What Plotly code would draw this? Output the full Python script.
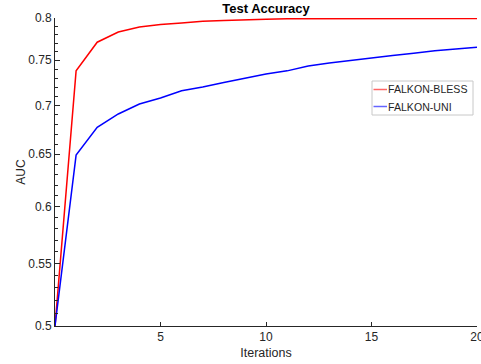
import math
import plotly.graph_objects as go

iterations = list(range(0, 21))
bless_auc = [0.500, 0.738, 0.771, 0.783, 0.789, 0.792, 0.794, 0.796, 0.797, 0.798,
             0.7985, 0.799, 0.799, 0.799, 0.7993, 0.7995, 0.7995, 0.7995, 0.7995, 0.7995, 0.7995]
uni_auc = [0.500, 0.649, 0.677, 0.691, 0.7016, 0.708, 0.716, 0.720, 0.725, 0.730,
           0.7345, 0.738, 0.7435, 0.747, 0.750, 0.7527, 0.7555, 0.758, 0.761, 0.763, 0.765]
series_names = ["FALKON-BLESS", "FALKON-UNI"]
series_colors = ["#ff0000", "#0000ff"]
y_ticks = [0.5, 0.55, 0.6, 0.65, 0.7, 0.75, 0.8]
y_tick_text = ["0.5", "0.55", "0.6", "0.65", "0.7", "0.75", "0.8"]
y_minor = [round(0.5 + 0.01 * i, 2) for i in range(31)]
x_ticks = [5, 10, 15, 20]

FONT = "Liberation Sans, Arial, sans-serif"
AX = "#262626"
W, H = 481, 364
ML, MR, MT, MB = 55, 4, 18, 38
PW, PH = W - ML - MR, H - MT - MB


def px_to_paper(x, y):
    return (x - ML) / PW, (H - MB - y) / PH


fig = go.Figure()
for name, vals, col in zip(series_names, [bless_auc, uni_auc], series_colors):
    fig.add_trace(go.Scatter(x=iterations, y=vals, mode="lines", name=name,
                             line=dict(color=col, width=1.5), showlegend=False))

# legend box (drawn manually to match the compact reference legend)
shapes = []
annotations = []
x0, y0 = px_to_paper(372, 81)
x1, y1 = px_to_paper(473, 115)
shapes.append(dict(type="rect", xref="paper", yref="paper", x0=x0, x1=x1, y0=y1, y1=y0,
                   line=dict(color="#c8c8c8", width=1), fillcolor="white", layer="above"))
for i, (name, col) in enumerate(zip(series_names, series_colors)):
    ly = 89.5 + 17 * i
    lx0, lyp = px_to_paper(373.5, ly)
    lx1, _ = px_to_paper(387, ly)
    shapes.append(dict(type="line", xref="paper", yref="paper", x0=lx0, x1=lx1, y0=lyp, y1=lyp,
                       line=dict(color=col, width=1.5), opacity=0.6, layer="above"))
    tx, _ = px_to_paper(386, ly)
    annotations.append(dict(text=name, xref="paper", yref="paper", x=tx, y=lyp,
                            xanchor="left", yanchor="middle", showarrow=False,
                            font=dict(size=10.6, color=AX, family=FONT)))

fig.update_layout(
    width=W, height=H,
    margin=dict(l=ML, r=MR, t=MT, b=MB, autoexpand=False),
    paper_bgcolor="white", plot_bgcolor="white",
    font=dict(family=FONT, size=12, color=AX),
    title=dict(text="<b>Test Accuracy</b>", x=0.5, xref="paper", xanchor="center",
               y=1 - 8 / H, yref="container", yanchor="middle",
               font=dict(size=13, color="black", family=FONT)),
    showlegend=False,
    shapes=shapes,
    annotations=annotations,
)
fig.update_xaxes(range=[0, 20.0001], tickmode="array", tickvals=x_ticks,
                 ticks="inside", ticklen=4, tickcolor=AX, tickwidth=1,
                 ticklabeloverflow="allow", automargin=False,
                 showline=True, linecolor=AX, linewidth=1, showgrid=False, zeroline=False,
                 tickfont=dict(size=12, color=AX),
                 title=dict(text="Iterations", font=dict(size=12.5, color=AX), standoff=4))
fig.update_yaxes(type="log", range=[math.log10(0.5), math.log10(0.8)],
                 tickmode="array", tickvals=y_ticks, ticktext=y_tick_text,
                 ticks="inside", ticklen=5, tickcolor=AX, tickwidth=1,
                 automargin=False,
                 minor=dict(tickmode="array", tickvals=y_minor, ticks="inside", ticklen=3,
                            tickcolor=AX, showgrid=False),
                 showline=True, linecolor=AX, linewidth=1, showgrid=False, zeroline=False,
                 tickfont=dict(size=12, color=AX),
                 title=dict(text="AUC", font=dict(size=12, color=AX), standoff=0))

fig.write_html("out.html")
